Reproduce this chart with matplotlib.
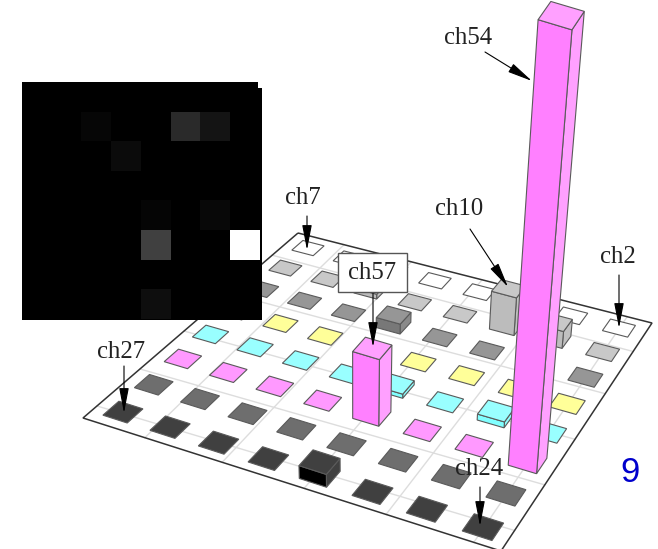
import matplotlib
matplotlib.use("Agg")
import matplotlib.pyplot as plt
import numpy as np
from matplotlib.patches import Polygon, Rectangle

# channel grid, rows run from the back of the floor to the front
row_colors = ["#ffffff", "#c8c8c8", "#969696", "#ffff99", "#99ffff", "#ff99ff", "#6e6e6e", "#404040"]
front_colors = ["#e8e8e8", "#bcbcbc", "#787878", "#e8e880", "#80ffff", "#ff80ff", "#555555", "#000000"]
side_colors = ["#f0f0f0", "#c0c0c0", "#8a8a8a", "#f0f090", "#90ffff", "#ffa0ff", "#606060", "#404040"]

# bar heights relative to the largest channel (row, col, height)
bar_rows = [1, 1, 1, 2, 4, 4, 5, 5, 7]
bar_cols = [2, 5, 6, 3, 4, 6, 4, 7, 4]
bar_heights = [0.010, 0.080, 0.036, 0.021, 0.009, 0.013, 0.147, 1.0, 0.029]

# gray levels of the small image (row, col, level)
image_rows = [1, 1, 1, 2, 4, 4, 5, 5, 7]
image_cols = [2, 5, 6, 3, 4, 6, 4, 7, 4]
image_levels = [6, 42, 20, 11, 5, 8, 64, 255, 14]

labels = ["ch54", "ch7", "ch10", "ch2", "ch27", "ch24"]
label_pos = [(468, 38), (303, 198), (459, 209), (618, 257), (121, 352), (479, 469)]
arrow_from = [(485, 52), (307, 216), (470, 229), (619, 275), (124, 366), (480, 487)]
arrow_to = [(532, 81), (307, 250), (508, 287), (619, 328), (124, 413), (480, 526)]

# layout in pixels
floor_corners = [(298, 233), (652, 323), (501, 551), (83, 418)]
cell_corners = [(308, 248), (619, 328), (483, 527), (123, 412)]
grid_front = [0.148, 0.333, 0.529, 0.725, 0.935]
grid_back = [0.13, 0.32, 0.52, 0.72, 0.93]
grid_left = [0.065, 0.265, 0.47, 0.675, 0.88]
grid_right = [0.09, 0.29, 0.49, 0.69, 0.875]
vanish = np.array([355.0, 2750.0])
lift = 0.195
half_col = 0.26
half_row = 0.25


def homography(src, dst):
    a = []
    b = []
    for (x, y), (u, v) in zip(src, dst):
        a.append([x, y, 1, 0, 0, 0, -u * x, -u * y])
        a.append([0, 0, 0, x, y, 1, -v * x, -v * y])
        b.extend([u, v])
    h = np.linalg.solve(np.array(a, float), np.array(b, float))
    return np.append(h, 1).reshape(3, 3)


def project(h, col, row):
    p = h @ np.array([col, row, 1.0])
    return p[:2] / p[2]


def raised(p, height):
    return vanish + (p - vanish) * (1 + lift * height)


def lerp(p, q, t):
    return (np.array(p, float) * (1 - t) + np.array(q, float) * t)


def main():
    fig = plt.figure(figsize=(6.58, 5.49), dpi=100)
    ax = fig.add_axes([0, 0, 1, 1])
    ax.axis("off")

    tl, tr, br, bl = floor_corners
    # floor grid
    for tf, tb in zip(grid_front, grid_back):
        a, b = lerp(bl, br, tf), lerp(tl, tr, tb)
        ax.plot([a[0], b[0]], [a[1], b[1]], color="#dddddd", lw=1, zorder=1)
    for tl_, tr_ in zip(grid_left, grid_right):
        a, b = lerp(bl, tl, tl_), lerp(br, tr, tr_)
        ax.plot([a[0], b[0]], [a[1], b[1]], color="#dddddd", lw=1, zorder=1)
    ax.add_patch(Polygon(floor_corners, closed=True, fill=False, ec="#333333", lw=1.1, zorder=2))

    h = homography([(0, 0), (7, 0), (7, 7), (0, 7)], cell_corners)
    heights = {(r, c): v for r, c, v in zip(bar_rows, bar_cols, bar_heights)}

    z = 3
    for row in range(8):
        for col in range(8):
            base = [project(h, col - half_col, row - half_row), project(h, col + half_col, row - half_row),
                    project(h, col + half_col, row + half_row), project(h, col - half_col, row + half_row)]
            height = heights.get((row, col), 0)
            top = [raised(p, height) for p in base]
            ec = "#5a5a5a"
            if height > 0:
                front = [top[3], top[2], base[2], base[3]]
                right = [top[1], top[2], base[2], base[1]]
                ax.add_patch(Polygon(right, closed=True, fc=side_colors[row], ec=ec, lw=0.8, zorder=z))
                ax.add_patch(Polygon(front, closed=True, fc=front_colors[row], ec=ec, lw=0.8, zorder=z))
                top_color = side_colors[row] if row == 5 else row_colors[row]
            else:
                top_color = row_colors[row]
            ax.add_patch(Polygon(top, closed=True, fc=top_color, ec=ec, lw=0.8, zorder=z))
            z += 1

    # channel image on top of the floor
    image = np.zeros((8, 8))
    for r, c, v in zip(image_rows, image_cols, image_levels):
        image[r, c] = v
    ax.add_patch(Rectangle((22, 82), 240, 237.5, fc="black", ec="none", zorder=200))
    ax.imshow(image, cmap="gray", vmin=0, vmax=255, extent=(22.3, 259.7, 319, 82),
              interpolation="nearest", aspect="auto", zorder=201)
    ax.add_patch(Rectangle((258, 80), 6, 8, fc="white", ec="none", zorder=202))

    # labels and arrows
    for name, pos, a, b in zip(labels, label_pos, arrow_from, arrow_to):
        ax.text(pos[0], pos[1], name, family="Liberation Serif", fontsize=17.8, color="#222222",
                ha="center", va="center", zorder=300)
        ax.annotate("", xy=b, xytext=a, zorder=300,
                    arrowprops=dict(arrowstyle="-|>,head_length=1.4,head_width=0.27", color="black",
                                    lw=0.8, shrinkA=0, shrinkB=0, mutation_scale=11))

    ax.annotate("", xy=(373, 347), xytext=(373, 292), zorder=300,
                arrowprops=dict(arrowstyle="-|>,head_length=1.4,head_width=0.27", color="black",
                                lw=0.8, shrinkA=0, shrinkB=0, mutation_scale=11))
    ax.add_patch(Rectangle((338, 253), 69, 39, fc="white", ec="#555555", lw=1, zorder=300))
    ax.text(372, 273, "ch57", family="Liberation Serif", fontsize=17.8, color="#222222",
            ha="center", va="center", zorder=301)

    ax.text(630, 473, "9", family="Liberation Sans", fontsize=25, color="#0000cc",
            ha="center", va="center", zorder=300)

    ax.set_xlim(0, 658)
    ax.set_ylim(549, 0)
    fig.savefig("out.png", dpi=100)


if __name__ == "__main__":
    main()
